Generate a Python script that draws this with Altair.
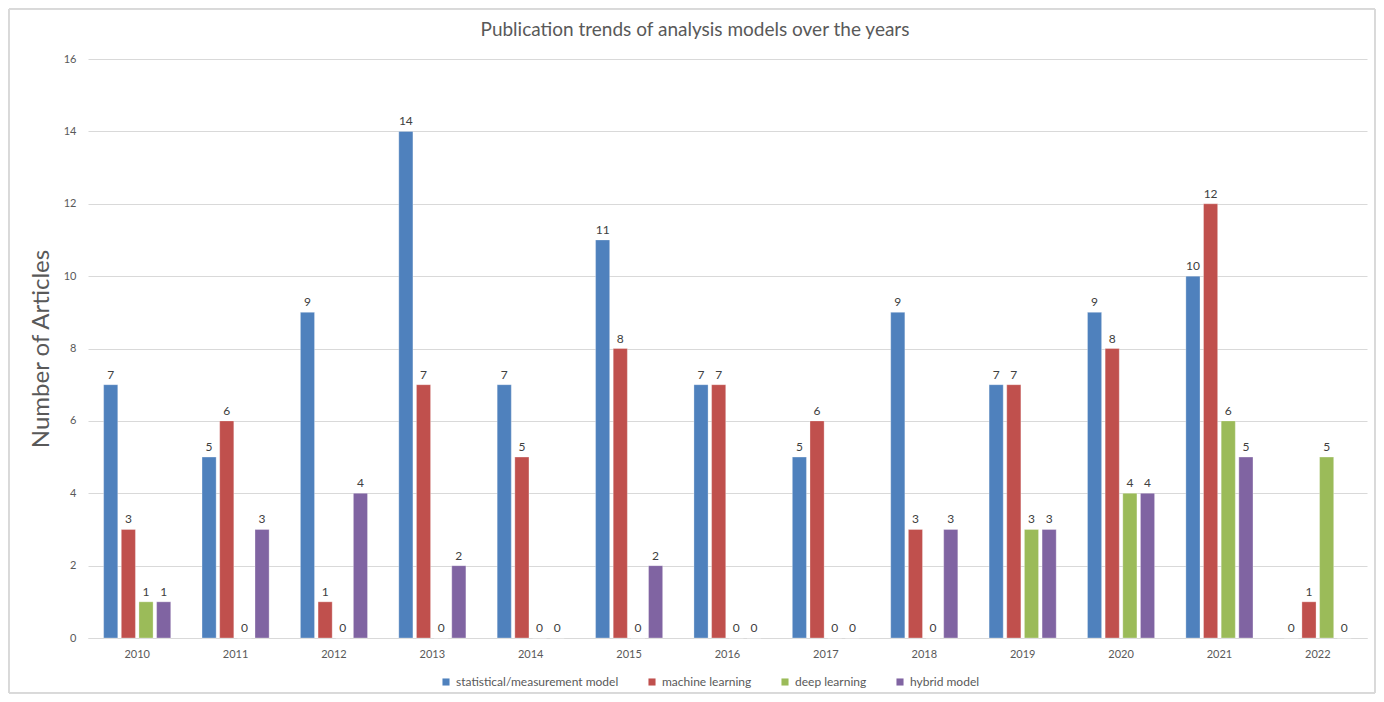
import altair as alt
import pandas as pd

years = ["2010", "2011", "2012", "2013", "2014", "2015", "2016", "2017", "2018", "2019", "2020", "2021", "2022"]
series = ["statistical/measurement model", "machine learning", "deep learning", "hybrid model"]
statistical = [7, 5, 9, 14, 7, 11, 7, 5, 9, 7, 9, 10, 0]
machine = [3, 6, 1, 7, 5, 8, 7, 6, 3, 7, 8, 12, 1]
deep = [1, 0, 0, 0, 0, 0, 0, 0, 0, 3, 4, 6, 5]
hybrid = [1, 3, 4, 2, 0, 2, 0, 0, 3, 3, 4, 5, 0]
colors = ["#4F81BD", "#C0504D", "#9BBB59", "#8064A2"]
title_text = "Publication trends of analysis models over the years"

rows = []
for s, vals in zip(series, [statistical, machine, deep, hybrid]):
    for y, v in zip(years, vals):
        rows.append({"year": y, "model": s, "count": v})
df = pd.DataFrame(rows)

W, H = 1279, 579
FONT = "Lato"

x = alt.X("year:N", sort=years, title=None,
          scale=alt.Scale(paddingInner=0.3, paddingOuter=0.15),
          axis=alt.Axis(labelAngle=0, labelFontSize=11, labelColor="#595959",
                        labelFont=FONT, ticks=False, domainColor="#D9D9D9",
                        labelPadding=10))
xo = alt.XOffset("model:N", sort=series,
                 scale=alt.Scale(paddingInner=0.2, paddingOuter=0.05))
y = alt.Y("count:Q", title="Number of Articles",
          scale=alt.Scale(domain=[0, 16]),
          axis=alt.Axis(values=list(range(0, 17, 2)), labelFontSize=11,
                        labelColor="#595959", labelFont=FONT, ticks=False,
                        domain=False, gridColor="#D9D9D9", labelPadding=12,
                        titleFontSize=24, titleFont=FONT, titleColor="#595959",
                        titleFontWeight="normal", titlePadding=10))

bars = alt.Chart(df).mark_bar(stroke="white", strokeOpacity=0.6, strokeWidth=0.5).encode(
    x=x, xOffset=xo, y=y,
    color=alt.Color("model:N", sort=series,
                    scale=alt.Scale(domain=series, range=colors),
                    legend=alt.Legend(title=None, orient="none", direction="horizontal",
                                      legendX=352, legendY=617, symbolType="square",
                                      symbolSize=50, symbolStrokeWidth=0,
                                      labelFontSize=12, labelFont=FONT, labelLimit=0,
                                      labelColor="#595959", columnPadding=27,
                                      labelOffset=4))
)

labels = alt.Chart(df).mark_text(dy=-10, fontSize=12, font=FONT, color="#404040").encode(
    x=alt.X("year:N", sort=years), xOffset=alt.XOffset("model:N", sort=series),
    y="count:Q", text="count:Q"
)

title = alt.Chart(pd.DataFrame({"t": [title_text]})).mark_text(
    fontSize=19, font=FONT, color="#595959", baseline="middle", align="center"
).encode(x=alt.value(607), y=alt.value(-29), text="t:N")

border = alt.Chart(df).mark_rect(fill=None, stroke="#D9D9D9", strokeWidth=1).encode(
    x=alt.value(-79), x2=alt.value(W + 8), y=alt.value(-50), y2=alt.value(H + 55)
)

chart = alt.layer(bars, labels, title, border).properties(
    width=W, height=H,
    autosize=alt.AutoSizeParams(type="none"),
    padding={"left": 80, "top": 51, "right": 9, "bottom": 56}
).configure_view(stroke=None)

chart.save("out.html", embed_options={"renderer": "svg", "actions": False})
